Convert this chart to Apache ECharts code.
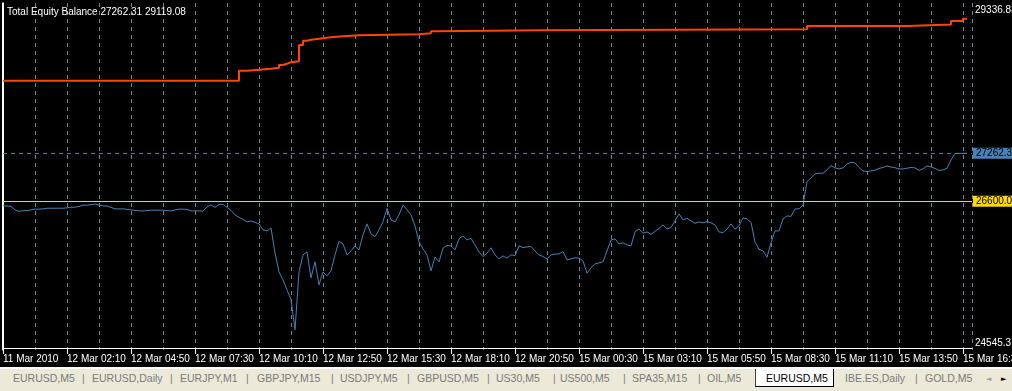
<!DOCTYPE html>
<html>
<head>
<meta charset="utf-8">
<script src="https://cdn.jsdelivr.net/npm/echarts@6/dist/echarts.min.js"></script>
<style>
html,body{margin:0;padding:0;background:#000;width:1012px;height:391px;overflow:hidden;}
#chart{position:absolute;left:0;top:0;width:1012px;height:391px;}
#tabs{position:absolute;left:0;top:367px;width:1012px;height:22px;background:#ECE9D8;border-top:2px solid #FFFFFF;
  font-family:'Liberation Sans',Arial,sans-serif;font-size:10.5px;color:#7A7A7A;}
#tabs span{position:absolute;top:4px;line-height:11px;white-space:nowrap;}
#tabs .sel{position:absolute;left:755px;top:0;width:77px;height:17px;background:#FFFFFF;border-left:1px solid #404040;border-right:1px solid #000;border-bottom:1px solid #000;}
#tabs .arr{font-family:'DejaVu Sans',sans-serif;font-size:7px;top:5px;}
</style>
</head>
<body>
<div id="chart"></div>
<div id="tabs">
  <span style="left:13px">EURUSD,M5</span><span style="left:82px">|</span>
  <span style="left:92px">EURUSD,Daily</span><span style="left:170px">|</span>
  <span style="left:180px">EURJPY,M1</span><span style="left:246px">|</span>
  <span style="left:257px">GBPJPY,M15</span><span style="left:331px">|</span>
  <span style="left:340px">USDJPY,M5</span><span style="left:407px">|</span>
  <span style="left:417px">GBPUSD,M5</span><span style="left:487px">|</span>
  <span style="left:496px">US30,M5</span><span style="left:553px">|</span>
  <span style="left:560px">US500,M5</span><span style="left:623px">|</span>
  <span style="left:632px">SPA35,M15</span><span style="left:698px">|</span>
  <span style="left:707px">OIL,M5</span>
  <div class="sel"></div>
  <span style="left:766px;color:#000">EURUSD,M5</span>
  <span style="left:845px">IBE.ES,Daily</span><span style="left:915px">|</span>
  <span style="left:925px">GOLD,M5</span>
  <span class="arr" style="left:986px;color:#A0A0A0">&#9668;</span>
  <span class="arr" style="left:1001px;color:#000">&#9658;</span>
</div>
<script>
// ---- data (M5 bars; equity sampled every 2 bars) ----
const timeLabels = ["11 Mar 2010","12 Mar 02:10","12 Mar 04:50","12 Mar 07:30","12 Mar 10:10","12 Mar 12:50","12 Mar 15:30","12 Mar 18:10","12 Mar 20:50","15 Mar 00:30","15 Mar 03:10","15 Mar 05:50","15 Mar 08:30","15 Mar 11:10","15 Mar 13:50","15 Mar 16:30"];
const barsPerLabel = 32;
const barsPerGridLine = 16;
const equityStep = 2;
const equity = [
26535,26535,26528,26480,26459,26470,26470,26480,26490,26490,
26494,26503,26503,26503,26503,26503,26508,26517,26517,26528,
26545,26545,26552,26559,26549,26535,26535,26514,26494,26494,
26494,26487,26480,26473,26466,26466,26470,26476,26476,26476,
26476,26470,26466,26480,26490,26490,26487,26466,26466,26466,
26462,26521,26549,26514,26556,26556,26514,26473,26411,26376,
26349,26314,26328,26307,26287,26204,26190,26232,25887,25624,
25514,25376,25238,24824,25624,25859,25900,25542,25762,25445,
25624,25569,25638,25859,26045,26011,25859,25914,25983,25928,
26135,26287,26149,26111,26204,26318,26503,26342,26314,26411,
26549,26480,26411,26259,26038,25942,25859,25638,25831,25762,
25951,25990,25983,25928,26080,26121,26066,26087,25997,25900,
25836,25882,25956,25859,25804,25845,25813,25859,25849,25983,
25960,25969,25974,25914,25859,25836,25804,25859,25869,25873,
25904,25790,25804,25818,25813,25776,25606,25680,25735,25749,
25762,25914,26066,26080,26011,26025,25997,25983,26176,26218,
26158,26176,26142,26183,26225,26273,26214,26236,26328,26425,
26342,26363,26328,26294,26314,26301,26318,26301,26273,26176,
26167,26214,26287,26214,26259,26370,26356,26307,26038,25935,
25914,25827,26025,26190,26190,26356,26397,26390,26494,26494,
26549,26870,26922,26977,26986,26986,27032,27094,27060,27046,
27060,27115,27135,27129,27066,27018,27009,27018,27028,27053,
27066,27087,27073,27062,27046,27046,27055,27066,27060,27025,
27046,27087,27073,27053,27025,27032,27055,27170,27260,27260,
27262,27262.31
];
const balanceBars   = [0,118,122,128,134,138,140,142,144,148,150,152,154,160,164,170,178,208,214,216,270,402,452,474,480,482];
const balanceValues = [28264,28402,28416,28430,28444,28481,28499,28518,28532,28757,28816,28830,28849,28863,28877,28891,28905,28918,28946,28960,28975,29019,29040,29088,29119.08,29119.08];
const scaleMin = 24545.31;
const scaleMax = 29336.88;
const levelValue = 26600.00;
const visibleBars = 484.5;

// ---- chart ----
const font = "'Liberation Sans',Arial,sans-serif";
const fs = 10;
const lastEquity = equity[equity.length - 1];
const lastBalance = balanceValues[balanceValues.length - 1];
const equityData = equity.map((v, i) => [i * equityStep, v]);
const balanceData = balanceBars.map((b, i) => [b, balanceValues[i]]);
const labelBars = timeLabels.map((_, i) => i * barsPerLabel);

const chart = echarts.init(document.getElementById('chart'), null, {renderer: 'canvas'});
chart.setOption({
  animation: false,
  backgroundColor: '#000000',
  textStyle: {fontFamily: font},
  title: {
    text: 'Total Equity Balance ' + lastEquity.toFixed(2) + ' ' + lastBalance.toFixed(2),
    left: 7, top: 7, padding: 0,
    textStyle: {color: '#FFFFFF', fontSize: fs, fontWeight: 'normal', fontFamily: font}
  },
  grid: {left: 3, right: 40, top: 3, bottom: 41, containLabel: false, outerBoundsMode: 'none'},
  xAxis: [
    {
      type: 'value', min: 0, max: visibleBars, interval: barsPerGridLine, offset: -2,
      axisLine: {show: true, lineStyle: {color: '#FFFFFF', width: 1}},
      axisTick: {show: false}, axisLabel: {show: false},
      splitLine: {show: true, lineStyle: {color: '#778899', width: 1, type: [4, 4]}}
    },
    {
      type: 'value', position: 'bottom', min: 0, max: visibleBars, interval: barsPerLabel, offset: -2,
      axisLine: {show: false}, splitLine: {show: false},
      axisTick: {show: true, length: 6, customValues: labelBars, lineStyle: {color: '#FFFFFF', width: 1}},
      axisLabel: {
        show: true, color: '#FFFFFF', fontSize: fs, fontFamily: font, align: 'left', margin: 6,
        customValues: labelBars, hideOverlap: false, showMaxLabel: true,
        formatter: v => (v % barsPerLabel === 0 && timeLabels[v / barsPerLabel]) ? timeLabels[v / barsPerLabel] : ''
      }
    }
  ],
  yAxis: [
    {
      type: 'value', position: 'right', min: scaleMin, max: scaleMax, interval: scaleMax - scaleMin,
      axisLine: {show: true, lineStyle: {color: '#FFFFFF', width: 1}},
      axisTick: {show: false}, splitLine: {show: false},
      axisLabel: {show: true, color: '#FFFFFF', fontSize: fs, fontFamily: font, margin: 3, verticalAlign: 'top',
        padding: [2, 0, 0, 0], customValues: [scaleMax],
        formatter: v => Math.abs(v - scaleMax) < 0.01 ? scaleMax.toFixed(2) : ''}
    },
    {
      type: 'value', position: 'right', min: scaleMin, max: scaleMax, interval: scaleMax - scaleMin,
      axisLine: {show: false}, axisTick: {show: false}, splitLine: {show: false},
      axisLabel: {show: true, color: '#FFFFFF', fontSize: fs, fontFamily: font, margin: 3, verticalAlign: 'bottom',
        padding: [0, 0, 2, 0], customValues: [scaleMin],
        formatter: v => Math.abs(v - scaleMin) < 0.01 ? scaleMin.toFixed(2) : ''}
    },
    {
      type: 'value', position: 'left', min: scaleMin, max: scaleMax, offset: 1,
      axisLine: {show: true, lineStyle: {color: '#FFFFFF', width: 1}},
      axisTick: {show: false}, axisLabel: {show: false}, splitLine: {show: false}
    }
  ],
  series: [
    {
      name: 'Balance', type: 'line', xAxisIndex: 0, yAxisIndex: 0,
      data: balanceData, step: 'end', showSymbol: false, symbol: 'none',
      lineStyle: {color: '#FF4500', width: 2}, z: 3
    },
    {
      name: 'Equity', type: 'line', xAxisIndex: 0, yAxisIndex: 0,
      data: equityData, showSymbol: false, symbol: 'none',
      lineStyle: {color: '#4682B4', width: 1}, z: 4,
      markLine: {
        symbol: 'none', silent: true, animation: false,
        data: [
          {yAxis: lastEquity,
           lineStyle: {color: '#4682B4', width: 1, type: [4, 4]},
           label: {show: true, position: 'end', distance: 1, formatter: lastEquity.toFixed(2),
                   color: '#000000', backgroundColor: '#4682B4', padding: [1, 3, 0, 3],
                   fontSize: fs, fontFamily: font, lineHeight: 10}},
          {yAxis: levelValue,
           lineStyle: {color: '#FFD700', width: 1, type: 'solid'},
           label: {show: true, position: 'end', distance: 1, formatter: levelValue.toFixed(2),
                   color: '#000000', backgroundColor: '#FFD700', padding: [1, 3, 0, 3],
                   fontSize: fs, fontFamily: font, lineHeight: 10}}
        ]
      }
    }
  ]
});
</script>
</body>
</html>
